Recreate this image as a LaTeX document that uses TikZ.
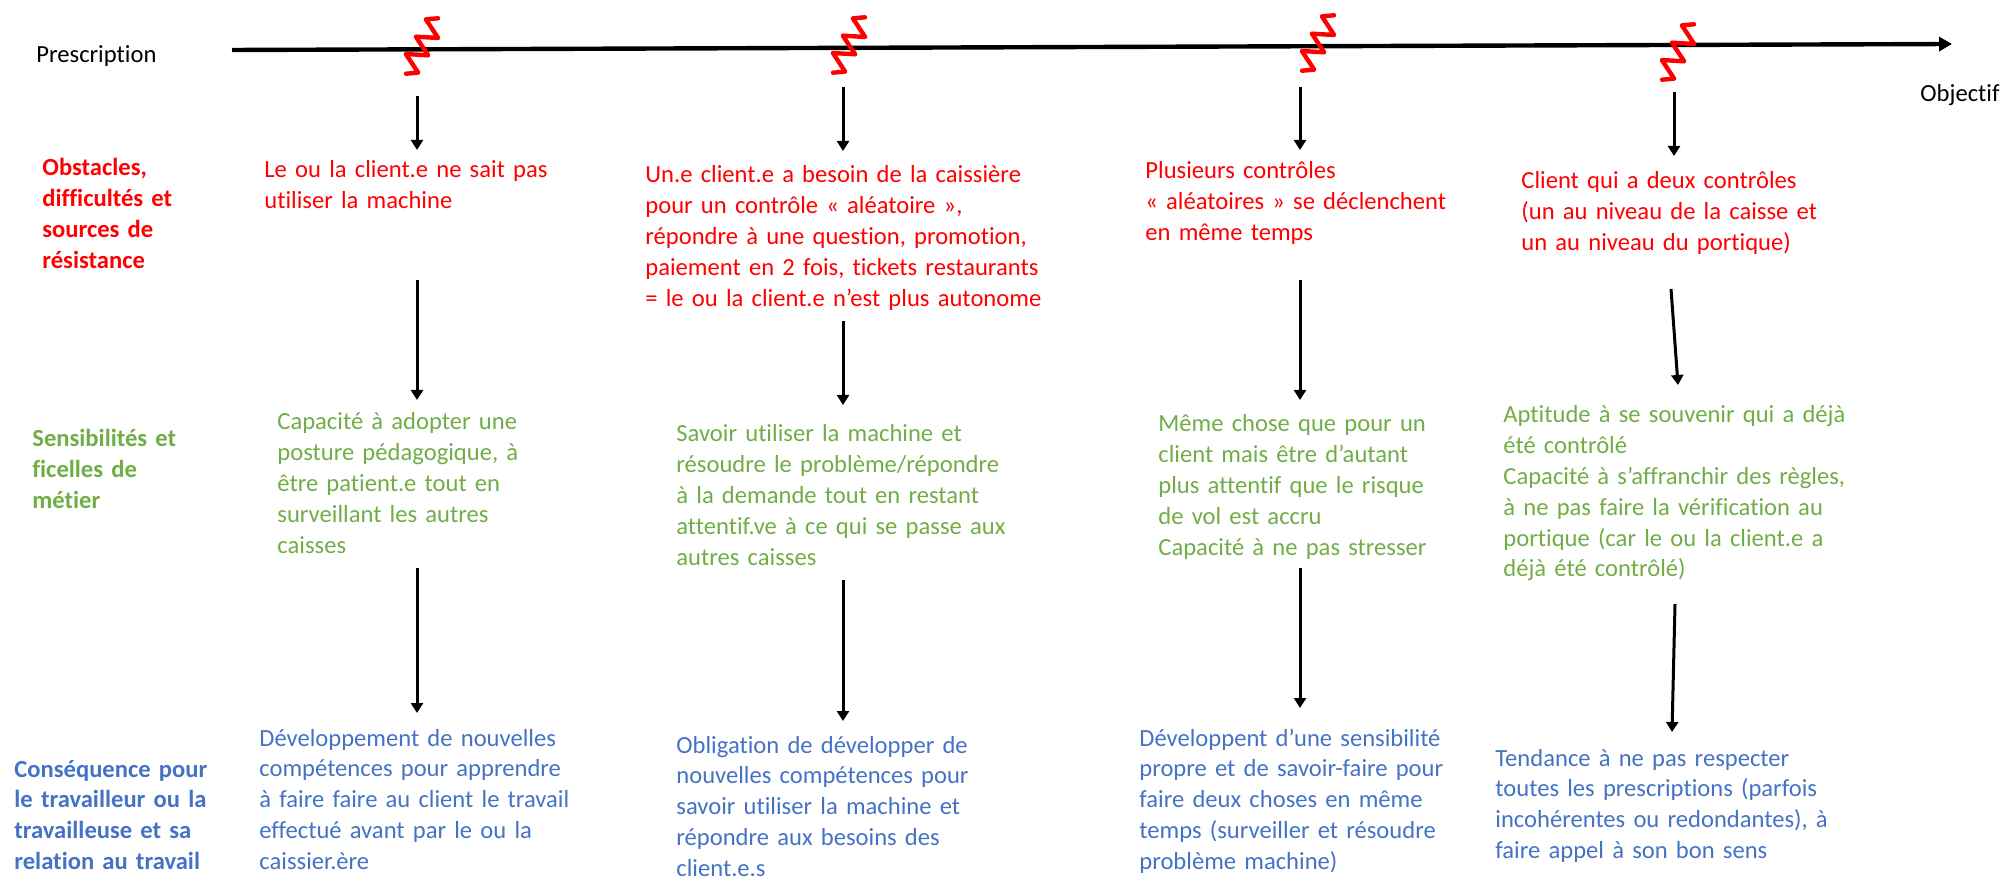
\documentclass[tikz,border=0pt]{standalone}
\usepackage{fontspec}
\setmainfont{Carlito}[Ligatures={TeX,NoCommon}]
\usetikzlibrary{arrows.meta}

\definecolor{obsred}{RGB}{255,0,0}
\definecolor{ficgreen}{RGB}{112,173,71}
\definecolor{consblue}{RGB}{68,114,196}

\begin{document}
\begin{tikzpicture}[x=0.5pt,y=-0.5pt,
    txt/.style={anchor=base west,inner sep=0pt,text width=200pt,align=left,font=\fontsize{12.3}{15.4}\selectfont},
    rowlabel/.style={txt,font=\fontsize{12.3}{15.4}\selectfont\bfseries},
    flow/.style={-{Triangle[width=6pt,length=5pt]},line width=1.5pt},
    spring/.style={obsred,line width=2.2pt,line join=round,line cap=round}]
  \useasboundingbox (0,0) rectangle (2011,881);

  % axe
  \node[txt] (presc) at (36,63) {Prescription};
  \node[txt] (obj) at (1920,102) {Objectif};
  \coordinate (axstart) at (232,50);
  \coordinate (axend) at (1952,44);
  \draw[line width=2.2pt,-{Triangle[width=7pt,length=6.5pt]}] (axstart) -- (axend);
  \foreach \x/\y [count=\i] in {422/46,849/45,1318/43,1678/52}
  {
    \coordinate (zz\i) at (\x,\y);
    \begin{scope}[shift={(zz\i)},rotate=60]
      \draw[spring] (-32,0) -- (-25,10) -- (-15,-10) -- (-5,10) -- (5,-10) -- (15,10) -- (25,-10) -- (32,0);
    \end{scope}
  }

  % titres des lignes
  \node[rowlabel,obsred] (lobs) at (42,176) {Obstacles,\\difficultés et\\sources de\\résistance};
  \node[rowlabel,ficgreen] (lfic) at (32,447) {Sensibilités et\\ficelles de\\métier};
  \node[rowlabel,consblue] (lcons) at (14,777) {Conséquence pour\\le travailleur ou la\\travailleuse et sa\\relation au travail};

  % obstacles
  \node[txt,obsred] (obs1) at (264,178) {Le ou la client.e ne sait pas\\utiliser la machine};
  \node[txt,obsred] (obs2) at (645,183) {Un.e client.e a besoin de la caissière\\pour un contrôle « aléatoire »,\\répondre à une question, promotion,\\paiement en 2 fois, tickets restaurants\\= le ou la client.e n’est plus autonome};
  \node[txt,obsred] (obs3) at (1145,179) {Plusieurs contrôles\\« aléatoires » se déclenchent\\en même temps};
  \node[txt,obsred] (obs4) at (1521,189) {Client qui a deux contrôles\\(un au niveau de la caisse et\\un au niveau du portique)};

  % sensibilites et ficelles
  \node[txt,ficgreen] (fic1) at (277,430) {Capacité à adopter une\\posture pédagogique, à\\être patient.e tout en\\surveillant les autres\\caisses};
  \node[txt,ficgreen] (fic2) at (676,442) {Savoir utiliser la machine et\\résoudre le problème/répondre\\à la demande tout en restant\\attentif.ve à ce qui se passe aux\\autres caisses};
  \node[txt,ficgreen] (fic3) at (1158,432) {Même chose que pour un\\client mais être d’autant\\plus attentif que le risque\\de vol est accru\\Capacité à ne pas stresser};
  \node[txt,ficgreen] (fic4) at (1503,423) {Aptitude à se souvenir qui a déjà\\été contrôlé\\Capacité à s’affranchir des règles,\\à ne pas faire la vérification au\\portique (car le ou la client.e a\\déjà été contrôlé)};

  % consequences
  \node[txt,consblue] (cons1) at (259,746) {Développement de nouvelles\\compétences pour apprendre\\à faire faire au client le travail\\effectué avant par le ou la\\caissier.ère};
  \node[txt,consblue] (cons2) at (676,753) {Obligation de développer de\\nouvelles compétences pour\\savoir utiliser la machine et\\répondre aux besoins des\\client.e.s};
  \node[txt,consblue] (cons3) at (1139,746) {Développent d’une sensibilité\\propre et de savoir-faire pour\\faire deux choses en même\\temps (surveiller et résoudre\\problème machine)};
  \node[txt,consblue] (cons4) at (1495,766) {Tendance à ne pas respecter\\toutes les prescriptions (parfois\\incohérentes ou redondantes), à\\faire appel à son bon sens};

  % fleches
  \foreach \n/\xa/\ya/\xb/\yb in {a1/417/96/417/150, a2/843/87/843/151, a3/1300/87/1300/150, a4/1674/92/1674/156,
      b1/417/280/417/400, b2/843/321/843/405, b3/1300/280/1300/400, b4/1671/289/1678/385,
      c1/417/568/417/713, c2/843/580/843/721, c3/1300/568/1300/708, c4/1675/604/1672/732}
  {
    \coordinate (s\n) at (\xa,\ya);
    \coordinate (e\n) at (\xb,\yb);
    \draw[flow] (s\n) -- (e\n);
  }
\end{tikzpicture}
\end{document}
